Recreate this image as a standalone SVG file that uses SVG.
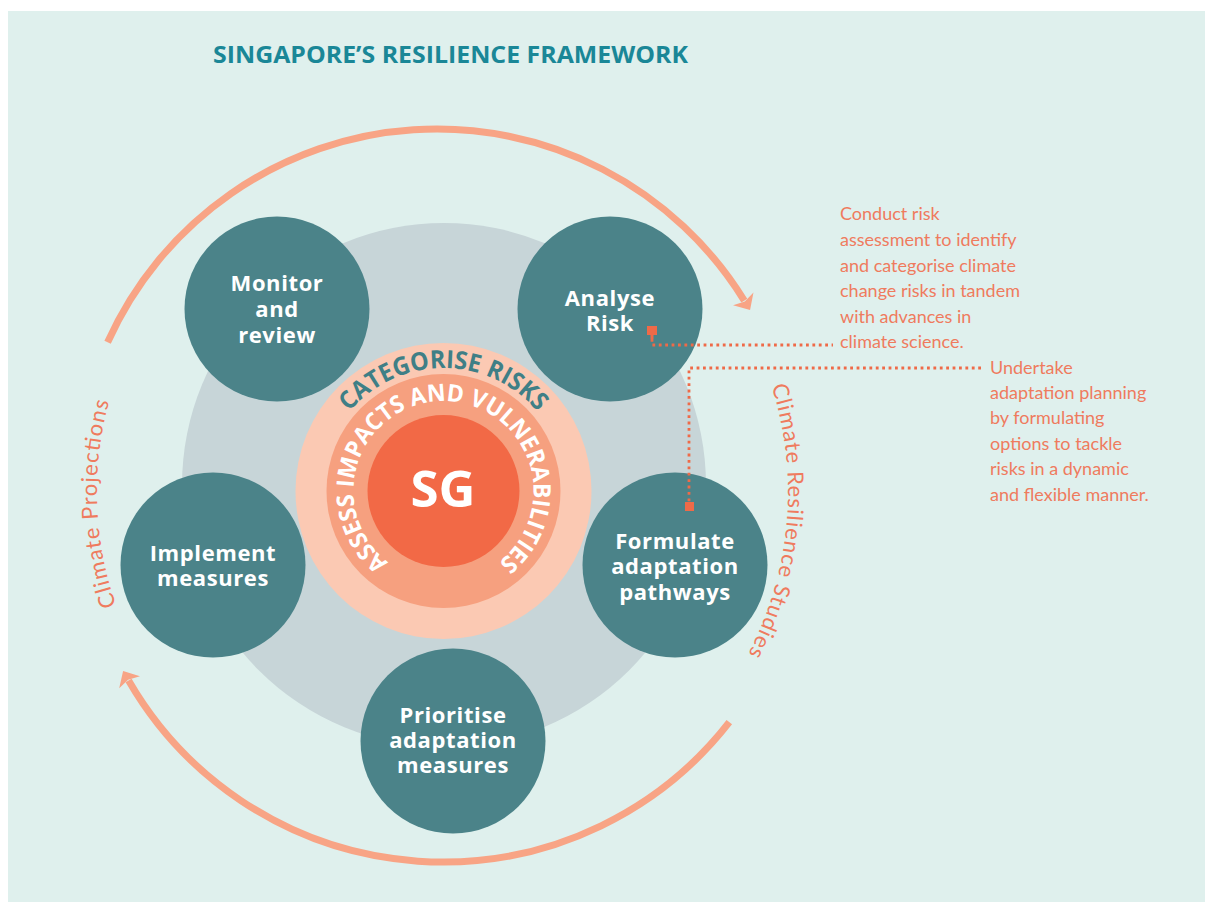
<svg xmlns="http://www.w3.org/2000/svg" width="1205" height="902" viewBox="0 0 1205 902">
  <style>
    .node { fill: #4b8389; }
    .nlabel { font-family: "Open Sans", "Liberation Sans", sans-serif; font-weight: 700; font-size: 22px; fill: #ffffff; text-anchor: middle; letter-spacing: 0.6px; }
    .note { font-family: Lato, "Liberation Sans", sans-serif; font-size: 18px; fill: #ef7b5e; }
    .side { font-family: Lato, "Liberation Sans", sans-serif; font-size: 22px; fill: #ef7b5e; }
    .arc { fill: none; stroke: #f8a485; stroke-width: 7; }
    .dots { fill: none; stroke: #ef6a48; stroke-width: 2.8; stroke-dasharray: 2.8 3.6; }
    .pin { fill: #ef6a48; }
    .ring { font-family: "Open Sans", "Liberation Sans", sans-serif; font-weight: 700; }
  </style>
  <defs>
    <marker id="arrowhead" markerUnits="userSpaceOnUse" markerWidth="30" markerHeight="30" viewBox="-15 -15 30 30" refX="0" refY="0" orient="auto" overflow="visible">
      <path d="M11,0 L-2,-12 L1,0 L-2,12 Z" fill="#f8a485"/>
    </marker>
    <path id="pCat" d="M320.5,491 A123,123 0 0 1 566.5,491"/>
    <path id="pAssess" d="M389.8,563.3 A90,90 0 1 1 497.2,563.3"/>
    <path id="pLeft" d="M206.1,742.9 A343,343 0 0 1 189.1,258.1"/>
    <path id="pRight" d="M706.6,268.3 A348,348 0 0 1 663.7,758.6"/>
  </defs>

  <rect x="0" y="0" width="1205" height="902" fill="#ffffff"/>
  <rect x="8" y="11" width="1197" height="891" fill="#dff0ed"/>

  <text x="213" y="63" font-family="'Open Sans', 'Liberation Sans', sans-serif" font-weight="700" font-size="23" fill="#1a8797" textLength="475" lengthAdjust="spacingAndGlyphs">SINGAPORE’S RESILIENCE FRAMEWORK</text>

  <g id="connectors">
    <path class="arc" d="M107.6,342.3 A361,361 0 0 1 744.3,300.6" marker-end="url(#arrowhead)"/>
    <path class="arc" d="M729.3,722.2 A363,363 0 0 1 128.6,680.5" marker-end="url(#arrowhead)"/>
  </g>

  <g id="side-labels">
    <text class="side"><textPath href="#pLeft" startOffset="50%" text-anchor="middle" textLength="207">Climate Projections</textPath></text>
    <text class="side"><textPath href="#pRight" startOffset="50%" text-anchor="middle" textLength="276">Climate Resilience Studies</textPath></text>
  </g>

  <g id="core">
    <circle cx="444" cy="485" r="262" fill="#c7d5d8"/>
    <circle cx="443.5" cy="491" r="148" fill="#fbc9b3"/>
    <circle cx="443.5" cy="491" r="117" fill="#f6a07f"/>
    <circle cx="443.5" cy="491" r="76" fill="#f26946"/>
    <text class="ring" font-size="25" fill="#3f7f86"><textPath href="#pCat" startOffset="50%" text-anchor="middle" textLength="214" lengthAdjust="spacingAndGlyphs">CATEGORISE RISKS</textPath></text>
    <text class="ring" font-size="24" fill="#ffffff"><textPath href="#pAssess" startOffset="50%" text-anchor="middle" textLength="446" lengthAdjust="spacingAndGlyphs">ASSESS IMPACTS AND VULNERABILITIES</textPath></text>
    <text x="443" y="507" font-family="'Open Sans', 'Liberation Sans', sans-serif" font-weight="700" font-size="51" fill="#ffffff" text-anchor="middle">SG</text>
  </g>

  <g id="node-monitor">
    <circle class="node" cx="277" cy="309" r="92.5"/>
    <text class="nlabel" x="277" y="291">Monitor</text>
    <text class="nlabel" x="277" y="317">and</text>
    <text class="nlabel" x="277" y="343">review</text>
  </g>
  <g id="node-analyse">
    <circle class="node" cx="610" cy="309" r="92.5"/>
    <text class="nlabel" x="610" y="306">Analyse</text>
    <text class="nlabel" x="610" y="331">Risk</text>
  </g>
  <g id="node-implement">
    <circle class="node" cx="213" cy="565" r="92.5"/>
    <text class="nlabel" x="213" y="561">Implement</text>
    <text class="nlabel" x="213" y="586">measures</text>
  </g>
  <g id="node-formulate">
    <circle class="node" cx="675" cy="565" r="92.5"/>
    <text class="nlabel" x="675" y="549">Formulate</text>
    <text class="nlabel" x="675" y="574">adaptation</text>
    <text class="nlabel" x="675" y="600">pathways</text>
  </g>
  <g id="node-prioritise">
    <circle class="node" cx="453" cy="741" r="92.5"/>
    <text class="nlabel" x="453" y="723">Prioritise</text>
    <text class="nlabel" x="453" y="748">adaptation</text>
    <text class="nlabel" x="453" y="773">measures</text>
  </g>

  <g id="callouts">
    <path class="dots" d="M652,339 L652,345 L833,345"/>
    <rect class="pin" x="647" y="326" width="10" height="9"/>
    <rect class="pin" x="650.5" y="334" width="3" height="5"/>
    <path class="dots" d="M981,368 L689,368 L689,503"/>
    <rect class="pin" x="685" y="502" width="9" height="9"/>
  </g>

  <g id="note-risk">
    <text class="note" x="840" y="220">Conduct risk</text>
    <text class="note" x="840" y="246">assessment to identify</text>
    <text class="note" x="840" y="272">and categorise climate</text>
    <text class="note" x="840" y="297">change risks in tandem</text>
    <text class="note" x="840" y="323">with advances in</text>
    <text class="note" x="840" y="348">climate science.</text>
  </g>
  <g id="note-adapt">
    <text class="note" x="990" y="374">Undertake</text>
    <text class="note" x="990" y="399">adaptation planning</text>
    <text class="note" x="990" y="424">by formulating</text>
    <text class="note" x="990" y="450">options to tackle</text>
    <text class="note" x="990" y="475">risks in a dynamic</text>
    <text class="note" x="990" y="501">and flexible manner.</text>
  </g>
</svg>
